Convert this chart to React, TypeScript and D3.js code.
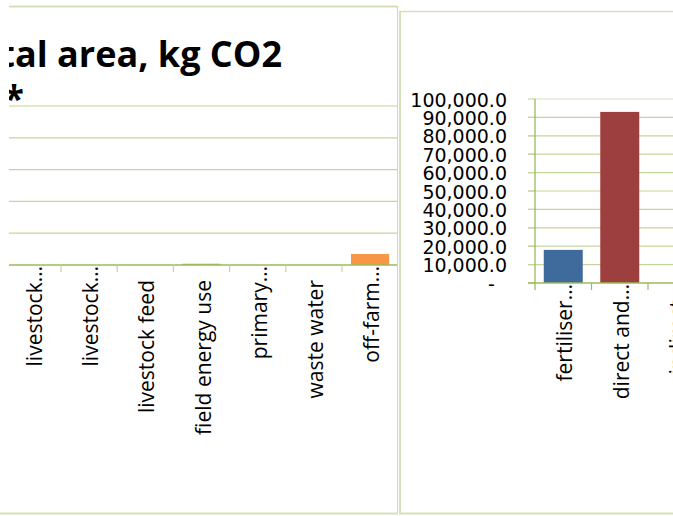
import React from "react";
import * as d3 from "d3";

// ---- data ----
const titleLines = ["Emissions per total area, kg CO2", "eq/ha*"];

const leftCategories = [
  "livestock…",
  "livestock…",
  "livestock feed",
  "field energy use",
  "primary…",
  "waste water",
  "off-farm…",
];
const leftValues = [0, 0, 0, 800, 0, 0, 6900];
const leftColors = ["#4f81bd", "#c0504d", "#8064a2", "#9bbb59", "#4bacc6", "#8064a2", "#f79646"];
const leftTicks = [0, 20000, 40000, 60000, 80000, 100000];

const rightCategories = ["fertiliser…", "direct and…", "indirect…"];
const rightValues = [18000, 93000, 0];
const rightColors = ["#3f6a9c", "#9c3f3e", "#9bbb59"];
const rightTicks = [0, 10000, 20000, 30000, 40000, 50000, 60000, 70000, 80000, 90000, 100000];

const W = 673;
const H = 516;
const GRID = "#c3d69b";
const AXIS = "#9bbb59";
const BORDER = "#d3e2b6";
const LABEL_FONT = "'Open Sans', sans-serif";
const TICK_FONT = "'DejaVu Sans', sans-serif";

const fmt = d3.format(",.1f");
const tickText = (d: number) => (d === 0 ? "-\u2007" : fmt(d));

export default function App() {
  // left panel scales
  const lx = d3.scaleBand<string>().domain(leftCategories.map((_, i) => String(i))).range([4.8, 398.2]).paddingInner(0.32).paddingOuter(0.16);
  const ly = d3.scaleLinear().domain([0, 100000]).range([265, 106]);
  const lStep = lx.step();

  // right panel scales
  const rx = d3.scaleBand<string>().domain(rightCategories.map((_, i) => String(i))).range([535, 535 + 56.5 * rightCategories.length]).paddingInner(0.31).paddingOuter(0.155);
  const ry = d3.scaleLinear().domain([0, 100000]).range([283, 99]);
  const rStep = rx.step();

  const labelOffset = (s: string) => (s.endsWith("…") ? 1 : 15);

  return (
    <svg width={W} height={H} style={{ position: "absolute", left: 0, top: 0, background: "#fff" }}>
      <defs>
        <clipPath id="leftClip">
          <rect x={9} y={0} width={388} height={H} />
        </clipPath>
        <clipPath id="rightClip">
          <rect x={401} y={12} width={W - 401} height={501} />
        </clipPath>
      </defs>

      {/* ---------- left panel ---------- */}
      <g clipPath="url(#leftClip)">
        {leftTicks.slice(1).map((t) => (
          <line key={t} x1={0} x2={397} y1={ly(t)} y2={ly(t)} stroke={GRID} strokeWidth={1.2} />
        ))}
        <text x={282} y={67} textAnchor="end" fontFamily={LABEL_FONT} fontWeight={700} fontSize={36} fill="#000">
          {titleLines[0]}
        </text>
        <text x={24} y={111} textAnchor="end" fontFamily={LABEL_FONT} fontWeight={700} fontSize={36} fill="#000">
          {titleLines[1]}
        </text>
        {leftValues.map((v, i) => (
          <rect key={i} x={lx(String(i))} width={lx.bandwidth()} y={ly(v)} height={ly(0) - ly(v)} fill={leftColors[i]} />
        ))}
        <line x1={0} x2={398} y1={ly(0)} y2={ly(0)} stroke={AXIS} strokeWidth={1.3} />
        {leftCategories.map((_, i) => {
          const xx = (lx(String(i)) as number) - (lStep - lx.bandwidth()) / 2;
          return <line key={i} x1={xx} x2={xx} y1={ly(0)} y2={ly(0) + 7} stroke={GRID} strokeWidth={1.2} />;
        })}
        {leftCategories.map((c, i) => {
          const cx = (lx(String(i)) as number) + lx.bandwidth() / 2;
          return (
            <text key={i} transform={`translate(${cx + 9},${ly(0) + labelOffset(c)}) rotate(-90)`} textAnchor="end" fontFamily={LABEL_FONT} fontSize={21} fill="#000">
              {c}
            </text>
          );
        })}
      </g>
      <line x1={9} x2={397} y1={6.5} y2={6.5} stroke={BORDER} strokeWidth={2} />
      <line x1={397.5} x2={397.5} y1={6} y2={514} stroke="#cdd8bd" strokeWidth={1} />
      <line x1={0} x2={398} y1={513.5} y2={513.5} stroke={BORDER} strokeWidth={2} />

      {/* ---------- right panel ---------- */}
      <g clipPath="url(#rightClip)">
        {rightTicks.slice(1).map((t) => (
          <line key={t} x1={528} x2={W + 20} y1={ry(t)} y2={ry(t)} stroke={t === 100000 ? "#d7e4bd" : GRID} strokeWidth={1.2} />
        ))}
        {rightTicks.map((t) => (
          <line key={"tk" + t} x1={528} x2={535} y1={ry(t)} y2={ry(t)} stroke={t === 100000 ? "#d7e4bd" : GRID} strokeWidth={1.2} />
        ))}
        {rightValues.map((v, i) => (
          <rect key={i} x={rx(String(i))} width={rx.bandwidth()} y={ry(v)} height={ry(0) - ry(v)} fill={rightColors[i]} />
        ))}
        <line x1={528} x2={W + 20} y1={ry(0)} y2={ry(0)} stroke={AXIS} strokeWidth={1.3} />
        <line x1={535} x2={535} y1={ry(100000)} y2={ry(0) + 7} stroke={AXIS} strokeWidth={1.3} />
        {rightCategories.map((_, i) => {
          const xx = (rx(String(i)) as number) + rx.bandwidth() + (rStep - rx.bandwidth()) / 2;
          return <line key={i} x1={xx} x2={xx} y1={ry(0)} y2={ry(0) + 7} stroke={AXIS} strokeWidth={1.2} />;
        })}
        {rightTicks.map((t) => (
          <text key={"l" + t} x={507} y={ry(t)} dy="0.4em" textAnchor="end" fontFamily={TICK_FONT} fontSize={19} fill="#000">
            {tickText(t)}
          </text>
        ))}
        {rightCategories.map((c, i) => {
          const cx = (rx(String(i)) as number) + rx.bandwidth() / 2;
          return (
            <text key={i} transform={`translate(${cx + 9},${ry(0) + labelOffset(c)}) rotate(-90)`} textAnchor="end" fontFamily={LABEL_FONT} fontSize={21} fill="#000">
              {c}
            </text>
          );
        })}
      </g>
      <line x1={400} x2={400} y1={11} y2={514} stroke={BORDER} strokeWidth={2} />
      <line x1={399} x2={W} y1={11.5} y2={11.5} stroke={BORDER} strokeWidth={1.5} />
      <line x1={399} x2={W} y1={513.5} y2={513.5} stroke={BORDER} strokeWidth={2} />
    </svg>
  );
}
